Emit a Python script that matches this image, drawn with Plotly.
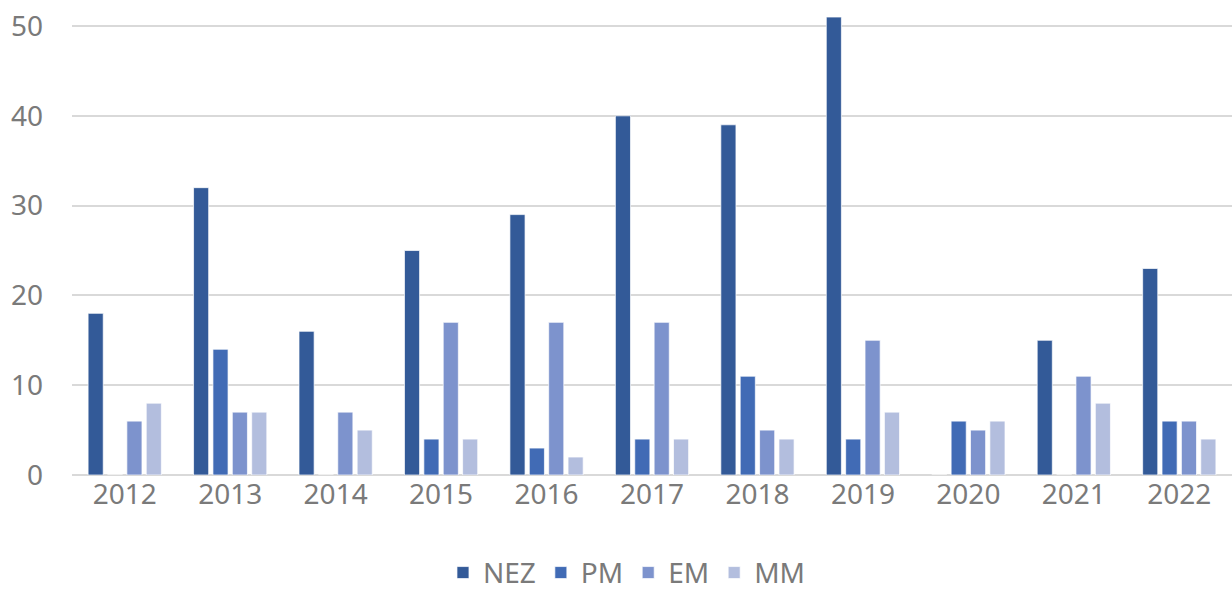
import plotly.graph_objects as go

# data
years = ["2012", "2013", "2014", "2015", "2016", "2017", "2018", "2019", "2020", "2021", "2022"]
nez = [18, 32, 16, 25, 29, 40, 39, 51, 0, 15, 23]
pm = [0, 14, 0, 4, 3, 4, 11, 4, 6, 0, 6]
em = [6, 7, 7, 17, 17, 17, 5, 15, 5, 11, 6]
mm = [8, 7, 5, 4, 2, 4, 4, 7, 6, 8, 4]

series = [("NEZ", nez, "#335A98"), ("PM", pm, "#416BB5"),
          ("EM", em, "#7D93CD"), ("MM", mm, "#B3BEDE")]

fig = go.Figure()
for name, vals, col in series:
    fig.add_trace(go.Bar(x=years, y=vals, name=name, marker_color=col,
                         marker_line=dict(width=1, color="rgba(255,255,255,0.7)")))

fig.update_layout(
    width=1232, height=596,
    margin=dict(l=72, r=0, t=0, b=121, autoexpand=False),
    paper_bgcolor="white", plot_bgcolor="white",
    barmode="group", bargap=0.265, bargroupgap=0.22,
    font=dict(family="Noto Sans", size=28, color="#7a7a7a"),
    showlegend=True,
    legend=dict(orientation="h", x=0.478, xanchor="center", y=-0.206, yanchor="middle",
                font=dict(size=28, color="#7a7a7a"), itemwidth=30, traceorder="normal"),
)
fig.update_xaxes(showgrid=False, showline=False, ticks="", ticklabelstandoff=0,
                 automargin=False)
fig.update_yaxes(range=[0, 52.9], dtick=10, showgrid=True, gridcolor="#D9D9D9", gridwidth=2,
                 zeroline=True, zerolinecolor="#D9D9D9", zerolinewidth=2,
                 ticks="", ticklabelstandoff=28, automargin=False)

# drop the browser's default body margin so the figure sits at the page corner
fig.write_html("out.html", config={"displayModeBar": False},
               post_script="document.body.style.margin='0';")
